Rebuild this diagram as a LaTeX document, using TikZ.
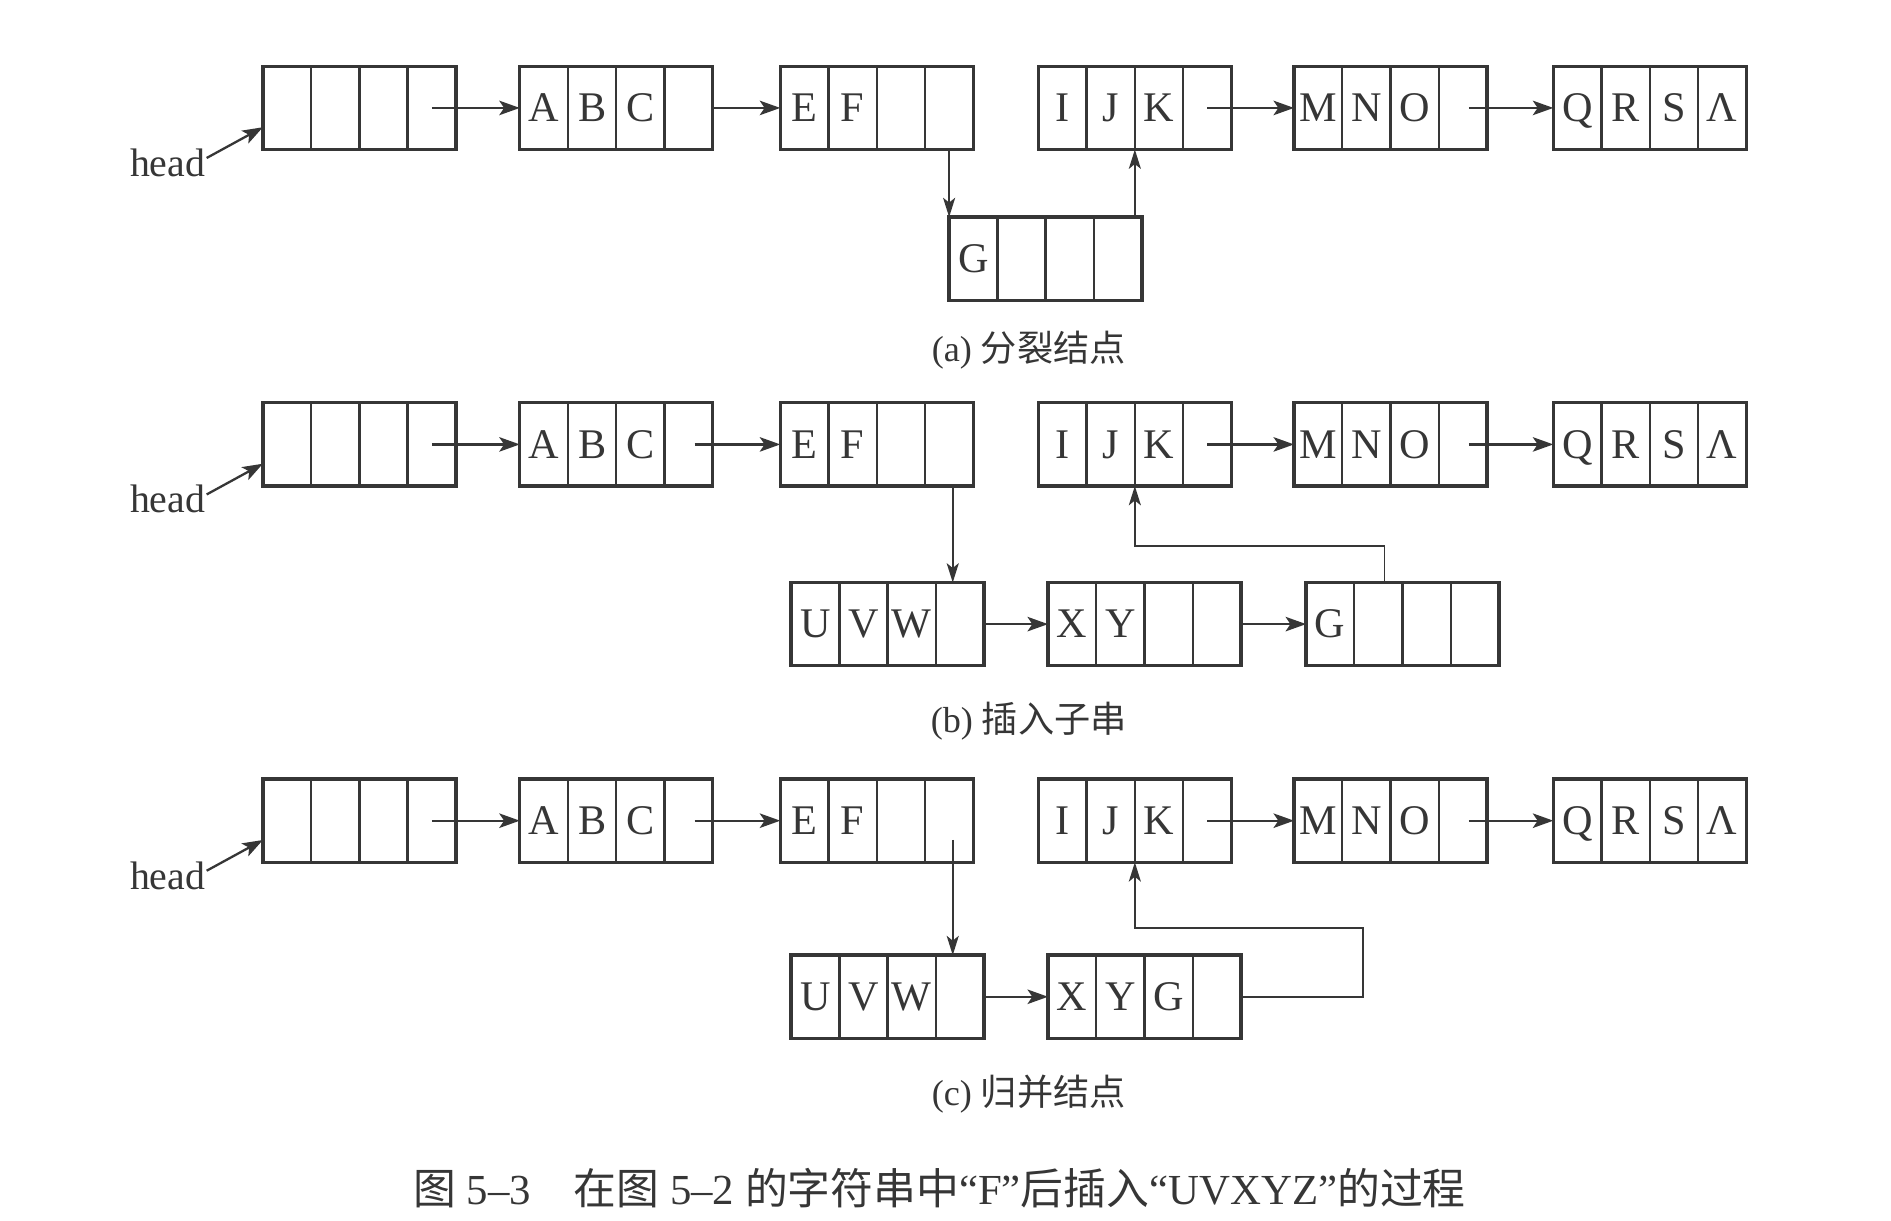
\documentclass[tikz,border=0pt]{standalone}
\usepackage{fontspec}
\setmainfont{Liberation Serif}
\newfontfamily\cjk{Noto Sans CJK SC}
\usetikzlibrary{arrows.meta}
\definecolor{ink}{HTML}{363636}
\tikzset{
  outer/.style={minimum width=160pt,minimum height=69pt,inner sep=0pt,outer sep=0pt,anchor=north west},
  cell/.style={draw=ink,line width=1.9pt,minimum width=40pt,minimum height=69pt,inner sep=0pt,outer sep=0pt,anchor=west,text=ink,font=\fontsize{35}{40}\selectfont,text height=23pt,text depth=0pt},
  rim/.style={draw=ink,line width=2.8pt},
  arr/.style={draw=ink,line width=1.9pt,-{Stealth[length=17pt,width=12pt,inset=4pt]}},
  thinarr/.style={draw=ink,line width=1.5pt,-{Stealth[length=16pt,width=10pt,inset=4pt]}},
  headlbl/.style={text=ink,font=\fontsize{33}{38}\selectfont,inner sep=1pt},
  subcap/.style={text=ink,font=\fontsize{30}{36}\selectfont},
  maincap/.style={text=ink,font=\fontsize{35.5}{42}\selectfont},
}
\newcommand\lbox[7]{%
  \node[outer] (#1) at (#2,#3) {};
  \node[cell] (#1-1) at (#1.west) {#4};
  \node[cell] (#1-2) at (#1-1.east) {#5};
  \node[cell] (#1-3) at (#1-2.east) {#6};
  \node[cell] (#1-4) at (#1-3.east) {#7};
  \draw[rim] (#1.north west) rectangle (#1.south east);
}
\begin{document}
\begin{tikzpicture}[x=1pt,y=-1pt]
\fill[white] (0,0) rectangle (1568,1012);
\useasboundingbox (0,0) rectangle (1568,1012);

% ---------- (a) ----------
\lbox{a0}{218}{55}{}{}{}{}
\lbox{a1}{431}{55}{A}{B}{C}{}
\lbox{a2}{647}{55}{E}{F}{}{}
\lbox{a3}{861}{55}{I}{J}{K}{}
\lbox{a4}{1073}{55}{M}{N}{O}{}
\lbox{a5}{1288}{55}{Q}{R}{S}{Λ}
\lbox{ag}{787}{180}{G}{}{}{}
\node[headlbl] (ha) at (139,135) {head};
\draw[arr] ([yshift=4pt]ha.east) -- ([yshift=-16pt]a0.west);
\draw[arr] (a0-4.center) -- (a1.west);
\draw[arr] (a1.east) -- (a2.west);
\draw[arr] (a3-4.center) -- (a4.west);
\draw[arr] ([xshift=5pt]a4-4.center) -- (a5.west);
\draw[thinarr] (a2-4.south) -- (a2-4.south |- ag.north);
\draw[thinarr] (a3-2.south east |- ag.north) -- (a3-2.south east);
\node[subcap] (capa) at (853,290) {(a) {\cjk 分裂结点}};

% ---------- (b) ----------
\lbox{b0}{218}{334}{}{}{}{}
\lbox{b1}{431}{334}{A}{B}{C}{}
\lbox{b2}{647}{334}{E}{F}{}{}
\lbox{b3}{861}{334}{I}{J}{K}{}
\lbox{b4}{1073}{334}{M}{N}{O}{}
\lbox{b5}{1288}{334}{Q}{R}{S}{Λ}
\lbox{bu}{656}{483}{U}{V}{W}{}
\lbox{bx}{869}{483}{X}{Y}{}{}
\lbox{bg}{1083}{483}{G}{}{}{}
\node[headlbl] (hb) at (139,414) {head};
\draw[arr] ([yshift=4pt]hb.east) -- ([yshift=-16pt]b0.west);
\draw[arr] (b0-4.center) -- (b1.west);
\draw[arr] ([xshift=5pt]b1-4.center) -- (b2.west);
\draw[arr] (b3-4.center) -- (b4.west);
\draw[arr] ([xshift=5pt]b4-4.center) -- (b5.west);
\draw[thinarr] ([xshift=3pt]b2-4.south) -- ([xshift=3pt]b2-4.south |- bu.north);
\draw[arr] (bu.east) -- (bx.west);
\draw[arr] (bx.east) -- (bg.west);
\draw[thinarr] ([xshift=5pt]bg-2.north) -- ++(0,-30) -| (b3-2.south east);
\node[subcap] (capb) at (853,598) {(b) {\cjk 插入子串}};

% ---------- (c) ----------
\lbox{c0}{218}{646}{}{}{}{}
\lbox{c1}{431}{646}{A}{B}{C}{}
\lbox{c2}{647}{646}{E}{F}{}{}
\lbox{c3}{861}{646}{I}{J}{K}{}
\lbox{c4}{1073}{646}{M}{N}{O}{}
\lbox{c5}{1288}{646}{Q}{R}{S}{Λ}
\lbox{cu}{656}{792}{U}{V}{W}{}
\lbox{cx}{869}{792}{X}{Y}{G}{}
\node[headlbl] (hc) at (139,726) {head};
\draw[arr] ([yshift=4pt]hc.east) -- ([yshift=-16pt]c0.west);
\draw[arr] (c0-4.center) -- (c1.west);
\draw[arr] ([xshift=5pt]c1-4.center) -- (c2.west);
\draw[arr] (c3-4.center) -- (c4.west);
\draw[arr] ([xshift=5pt]c4-4.center) -- (c5.west);
\draw[thinarr] ([xshift=3pt,yshift=-16pt]c2-4.center) -- ([xshift=3pt]c2-4.center |- cu.north);
\draw[arr] (cu.east) -- (cx.west);
\draw[thinarr] (cx.east) -- ++(101,0) -- ++(0,-57) -| (c3-2.south east);
\node[subcap] (capc) at (853,907) {(c) {\cjk 归并结点}};

% ---------- caption ----------
\node[maincap] (cap) at (779,985) {{\cjk 图} 5–3\hspace{1em}{\cjk 在图} 5–2 {\cjk 的字符串中}“F”{\cjk 后插入}“UVXYZ”{\cjk 的过程}};
\end{tikzpicture}
\end{document}
